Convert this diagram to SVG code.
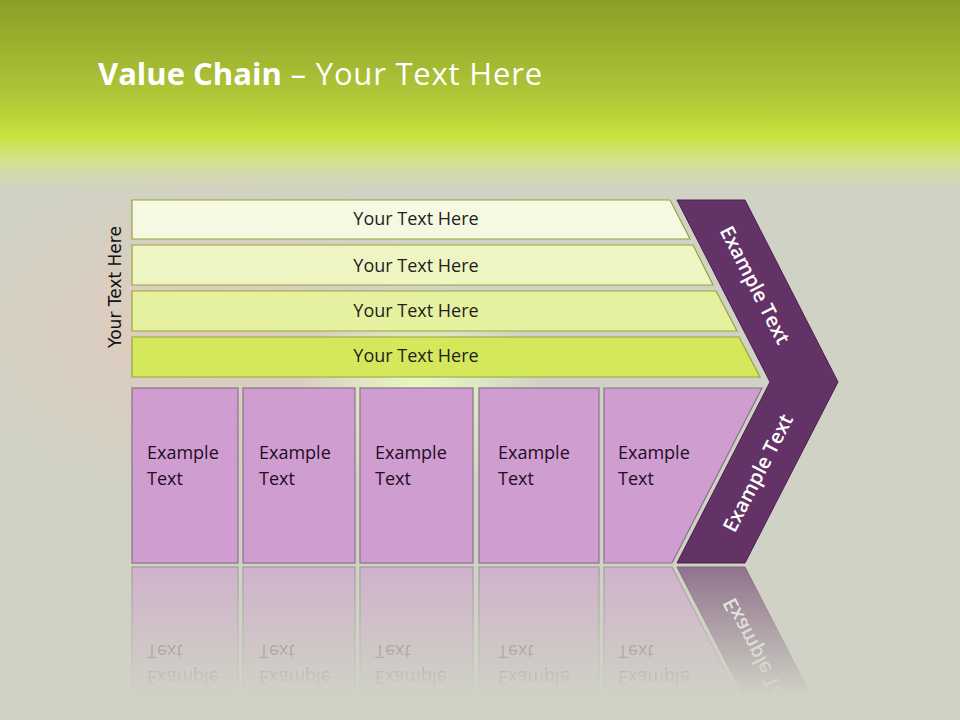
<svg xmlns="http://www.w3.org/2000/svg" width="960" height="720" viewBox="0 0 960 720">
<defs>
<linearGradient id="bgTop" x1="0" y1="0" x2="0" y2="1">
<stop offset="0" stop-color="#8b9e28"/>
<stop offset="0.5" stop-color="#b2c838"/>
<stop offset="0.68" stop-color="#c8e23e"/>
<stop offset="0.82" stop-color="#d6e28e" stop-opacity="0.9"/>
<stop offset="1" stop-color="#d2d5c4" stop-opacity="0"/>
</linearGradient>
<radialGradient id="glowPink" cx="0.5" cy="0.5" r="0.5">
<stop offset="0" stop-color="#e8c8b8" stop-opacity="0.7"/>
<stop offset="1" stop-color="#e8c8b8" stop-opacity="0"/>
</radialGradient>
<radialGradient id="glowGreen" cx="0.5" cy="0.5" r="0.5">
<stop offset="0" stop-color="#eefcc0" stop-opacity="0.9"/>
<stop offset="1" stop-color="#eefcc0" stop-opacity="0"/>
</radialGradient>
<linearGradient id="fade" x1="0" y1="0" x2="0" y2="1">
<stop offset="0" stop-color="#fff" stop-opacity="0.6"/>
<stop offset="1" stop-color="#fff" stop-opacity="0"/>
</linearGradient>
<mask id="reflMask" maskUnits="userSpaceOnUse" x="0" y="560" width="960" height="160">
<rect x="0" y="565" width="960" height="130" fill="url(#fade)"/>
</mask>
<style>
.bar{stroke:#95a53a;stroke-width:1.2}
.box{fill:#cf9dcf;stroke:#85748a;stroke-width:1.2}
.chev{fill:#633266;stroke:#4a1f4e;stroke-width:1}
.bt{font-family:"Open Sans","Liberation Sans",sans-serif;font-size:18px;fill:#1e1e1e;text-anchor:middle}
.et{font-family:"Open Sans","Liberation Sans",sans-serif;font-size:18px;fill:#240c24}
.ct{font-family:"Open Sans","Liberation Sans",sans-serif;font-size:20px;font-weight:600;fill:#ffffff;text-anchor:middle}
</style>
</defs>
<g id="background">
<rect x="0" y="0" width="960" height="720" fill="#d0d2c5"/>
<ellipse cx="200" cy="330" rx="260" ry="170" fill="url(#glowPink)"/>
<ellipse cx="420" cy="390" rx="120" ry="110" fill="url(#glowGreen)"/>
<rect x="0" y="0" width="960" height="200" fill="url(#bgTop)"/>
</g>
<g id="title">
<text x="98" y="85" font-family="'Open Sans','Liberation Sans',sans-serif" font-size="31" fill="#ffffff"><tspan font-weight="700">Value Chain</tspan><tspan letter-spacing="0.8"> – Your Text Here</tspan></text>
</g>
<g id="side-label">
<text transform="translate(121,287) rotate(-90)" font-family="'DejaVu Sans',sans-serif" font-size="17" fill="#111" text-anchor="middle">Your Text Here</text>
</g>
<g id="bar1"><polygon class="bar" fill="#f5f9e2" points="132,200 670,200 690,239 132,239"/><text class="bt" x="416" y="225">Your Text Here</text></g>
<g id="bar2"><polygon class="bar" fill="#eef5c2" points="132,245 693,245 713,285 132,285"/><text class="bt" x="416" y="272">Your Text Here</text></g>
<g id="bar3"><polygon class="bar" fill="#e5f19f" points="132,291 716,291 737,331 132,331"/><text class="bt" x="416" y="317">Your Text Here</text></g>
<g id="bar4"><polygon class="bar" fill="#d5e85c" points="132,337 739,337 760,377 132,377"/><text class="bt" x="416" y="362">Your Text Here</text></g>
<g id="box1"><rect class="box" x="132" y="388" width="106" height="175"/><text class="et" x="147" y="459">Example</text><text class="et" x="147" y="485">Text</text></g>
<g id="box2"><rect class="box" x="243" y="388" width="112" height="175"/><text class="et" x="259" y="459">Example</text><text class="et" x="259" y="485">Text</text></g>
<g id="box3"><rect class="box" x="360" y="388" width="113" height="175"/><text class="et" x="375" y="459">Example</text><text class="et" x="375" y="485">Text</text></g>
<g id="box4"><rect class="box" x="479" y="388" width="120" height="175"/><text class="et" x="498" y="459">Example</text><text class="et" x="498" y="485">Text</text></g>
<g id="box5"><polygon class="box" points="604,388 762,388 672,563 604,563"/><text class="et" x="618" y="459">Example</text><text class="et" x="618" y="485">Text</text></g>
<g id="chevron">
<polygon class="chev" points="677,200 745,200 838,382 745,563 677,563 770,382"/>
<text class="ct" transform="translate(755,285) rotate(62.9)" dy="7">Example Text</text>
<text class="ct" transform="translate(758,473) rotate(-62.9)" dy="7">Example Text</text>
</g>
<g id="connectors"/>
<g id="reflection" mask="url(#reflMask)">
<g transform="translate(0,1130) scale(1,-1)">
<rect class="box" x="132" y="388" width="106" height="175"/>
<rect class="box" x="243" y="388" width="112" height="175"/>
<rect class="box" x="360" y="388" width="113" height="175"/>
<rect class="box" x="479" y="388" width="120" height="175"/>
<polygon class="box" points="604,388 762,388 672,563 604,563"/>
<polygon class="chev" points="770,382 838,382 745,563 677,563"/>
<text class="et" x="147" y="459">Example</text><text class="et" x="147" y="485">Text</text>
<text class="et" x="259" y="459">Example</text><text class="et" x="259" y="485">Text</text>
<text class="et" x="375" y="459">Example</text><text class="et" x="375" y="485">Text</text>
<text class="et" x="498" y="459">Example</text><text class="et" x="498" y="485">Text</text>
<text class="et" x="618" y="459">Example</text><text class="et" x="618" y="485">Text</text>
<text class="ct" transform="translate(758,473) rotate(-62.9)" dy="7">Example Text</text>
</g>
</g>
</svg>
